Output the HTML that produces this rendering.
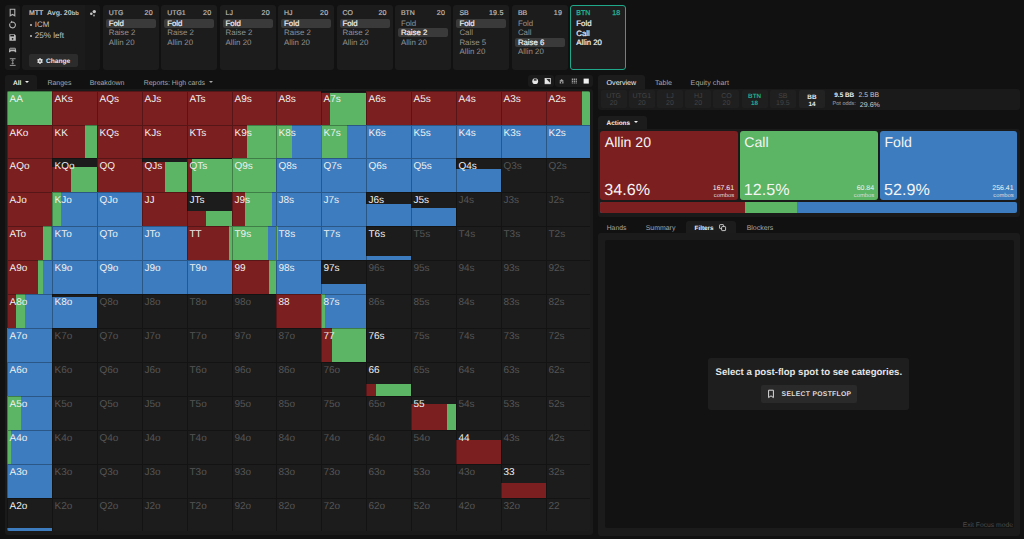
<!DOCTYPE html>
<html><head><meta charset="utf-8"><style>
*{margin:0;padding:0;box-sizing:border-box}
html,body{width:1024px;height:539px;overflow:hidden;background:#111111;font-family:"Liberation Sans",sans-serif;color:#ddd;position:relative;text-rendering:geometricPrecision}
.abs{position:absolute}
.nw{white-space:nowrap}
.card{position:absolute;top:5px;width:56px;height:64.6px;background:#1c1c1c;border-radius:3px}
.card.on{background:#1e1e1e;border:1.4px solid #1fa98a;}
.cn{position:absolute;left:6px;top:4.1px;font-size:6.95px;-webkit-text-stroke:.2px #b8b8b8;color:#b8b8b8;line-height:9px}
.cs{position:absolute;right:6px;top:4.1px;font-size:7.1px;-webkit-text-stroke:.2px #b8b8b8;letter-spacing:.2px;margin-right:-.2px;color:#b8b8b8;line-height:9px}
.card.on .cn,.card.on .cs{color:#22b08f;left:5px;top:2.5px;-webkit-text-stroke:.3px #22b08f}
.card.on .cs{left:auto;right:5px}
.ar{position:absolute;left:3px;width:50px;height:9px;padding-left:3px;font-size:7.9px;line-height:9px;color:#929292;white-space:nowrap}
.ar.sel{background:#3a3a3a;color:#f2f2f2;font-size:7.8px;-webkit-text-stroke:.2px #f2f2f2;border-radius:2px}
.ar.act{color:#f2f2f2;font-size:7.8px;-webkit-text-stroke:.2px #f2f2f2;left:2px}
#grid{position:absolute;left:7px;top:91px;width:583px;height:440px;background:#1c1c1c;overflow:hidden;border-radius:2px}
.c{position:absolute;overflow:hidden}
.c b{position:absolute;left:0;right:0;bottom:0}
.c i{position:absolute;top:0;bottom:0}
.c span{position:absolute;left:2.5px;top:2.5px;font-size:10px;line-height:11px;color:#f0f0f0;transform-origin:0 0;white-space:nowrap}
.c.e span{color:#555}
.c:after{content:"";position:absolute;left:0;top:0;right:0;bottom:0;border-left:1px solid rgba(0,0,0,.3);border-top:1px solid rgba(0,0,0,.3)}
.tab{position:absolute;margin-top:1px;font-size:6.95px;line-height:13px;color:#a8a8a8;height:13px;white-space:nowrap}
.tri{display:inline-block;width:0;height:0;border-left:2.2px solid transparent;border-right:2.2px solid transparent;border-top:2.7px solid currentColor;vertical-align:middle;position:relative;top:-1px}
.mc{position:absolute;top:90px;width:26px;height:18px;background:#1f1f1f;border-radius:2px;font-size:7px;line-height:7px;text-align:center;color:#434343;padding-top:3.4px}
.mc.btn{color:#1fae8c;font-weight:bold;font-size:6.3px}
.mc.bb{color:#e8e8e8;font-weight:bold;background:#222;font-size:6.3px;padding-top:3.6px;top:90.3px;height:17.8px}
.ab{position:absolute;top:131px;height:69px;border-radius:3px;color:#f4f4f4}
.ab .t{position:absolute;left:4.5px;top:2.9px;font-size:14.1px;line-height:16px;white-space:nowrap}
.ab .p{position:absolute;left:4px;top:49.5px;font-size:16.15px;line-height:18px;white-space:nowrap}
.ab .n{position:absolute;right:3.5px;top:54.2px;font-size:6.95px;line-height:8px;text-align:right}
.ab .n small{display:block;font-size:5.8px;line-height:7px;color:#dddddd}
</style></head><body>
<div class="abs" style="left:4.6px;top:5px;width:15px;height:64.6px;background:#1a1a1a;border-radius:3px"></div>
<svg class="abs" style="left:4.6px;top:5px" width="15" height="65" viewBox="0 0 15 65">
<g fill="none" stroke="#b4b4b4" stroke-width="1.1">
<path d="M5.2 4.2h4.6v6.5l-2.3-1.3-2.3 1.3z"/>
<path d="M5 18.6a2.9 2.9 0 1 0 1.7 -1.4"/>
</g>
<path d="M6.6 15.6l0.9 2.2-2.4 0.4z" fill="#b4b4b4"/>
<path d="M4.4 29.2h5.2l1.2 1.2v5.4h-6.4z" fill="#bdbdbd"/>
<rect x="5.4" y="29.9" width="3.6" height="1.5" fill="#1a1a1a"/>
<circle cx="7.6" cy="33.8" r="0.9" fill="#1a1a1a"/>
<path d="M5.6 42.8h4c.8 0 1.2.6 1.3 1.3l.35 2.6c.1.6-.5.9-1 .45l-1-1h-3.3l-1 1c-.5.45-1.1.15-1-.45l.35-2.6c.1-.7.5-1.3 1.3-1.3z" fill="#b4b4b4"/><rect x="5" y="43.7" width="5.2" height="0.8" fill="#1a1a1a"/>
<rect x="4.8" y="53.3" width="5.8" height="0.9" fill="#a8a8a8"/>
<rect x="4.8" y="59.9" width="5.8" height="0.9" fill="#a8a8a8"/>
<path d="M7.7 54.5v4.6M6.6 55.6l1.1-1.1 1.1 1.1M6.6 58l1.1 1.1 1.1-1.1" stroke="#a8a8a8" stroke-width="0.8" fill="none"/>
</svg>
<div class="abs" style="left:22px;top:5px;width:78.4px;height:64.6px;background:#1b1b1b;border-radius:3px"></div>
<div class="abs" style="left:85.2px;top:5px;width:15.2px;height:64.6px;background:#181818;border-radius:0 3px 3px 0"></div>
<svg class="abs" style="left:88px;top:9px" width="10" height="9" viewBox="0 0 10 9"><circle cx="6.3" cy="2.6" r="1.7" fill="#c8c8c8"/><circle cx="3.3" cy="4.8" r="1.3" fill="#c8c8c8"/><circle cx="6" cy="6.4" r="1" fill="#999"/></svg>
<div class="abs nw" style="left:29px;top:8.7px;font-size:7.0px;line-height:9px;color:#c4c4c4;font-weight:bold"><span id="m_mtt">MTT&nbsp; Avg. 20<span style="font-size:5.8px">bb</span></span></div>
<div class="abs" style="left:29.5px;top:23.6px;width:2px;height:2px;border-radius:1px;background:#c4c4c4"></div><div class="abs nw" style="left:34.8px;top:19.9px;font-size:7.9px;line-height:10px;color:#c4c4c4"><span id="m_icm">ICM</span></div>
<div class="abs" style="left:29.5px;top:34.9px;width:2px;height:2px;border-radius:1px;background:#c4c4c4"></div><div class="abs nw" style="left:34.8px;top:31.2px;font-size:8.1px;line-height:10px;color:#c4c4c4"><span id="m_left">25% left</span></div>
<div class="abs" style="left:29.1px;top:54.1px;width:48.9px;height:12.8px;background:#2c2c2c;border-radius:2px"></div>
<svg class="abs" style="left:37.3px;top:57.5px" width="6" height="6" viewBox="0 0 6 6"><g fill="#e6e6e6"><circle cx="3" cy="3" r="2"/><circle cx="3" cy="0.9" r="0.9"/><circle cx="3" cy="5.1" r="0.9"/><circle cx="1.2" cy="1.95" r="0.9"/><circle cx="4.8" cy="1.95" r="0.9"/><circle cx="1.2" cy="4.05" r="0.9"/><circle cx="4.8" cy="4.05" r="0.9"/></g><circle cx="3" cy="3" r="0.85" fill="#2c2c2c"/></svg>
<div class="abs nw" style="left:46px;top:56.7px;font-size:6.6px;line-height:9px;color:#e6e6e6;font-weight:bold"><span id="m_change">Change</span></div>
<div class="card" style="left:102.7px"><div class="cn"><span id="m_cn0">UTG</span></div><div class="cs"><span id="m_cs0">20</span></div><div class="ar sel" style="top:14.00px"><span id="m_c0_0">Fold</span></div><div class="ar " style="top:23.35px"><span id="m_c0_1">Raise 2</span></div><div class="ar " style="top:32.70px"><span id="m_c0_2">Allin 20</span></div></div><div class="card" style="left:161.2px"><div class="cn"><span id="m_cn1">UTG1</span></div><div class="cs"><span id="m_cs1">20</span></div><div class="ar sel" style="top:14.00px"><span>Fold</span></div><div class="ar " style="top:23.35px"><span>Raise 2</span></div><div class="ar " style="top:32.70px"><span>Allin 20</span></div></div><div class="card" style="left:219.6px"><div class="cn"><span id="m_cn2">LJ</span></div><div class="cs"><span id="m_cs2">20</span></div><div class="ar sel" style="top:14.00px"><span>Fold</span></div><div class="ar " style="top:23.35px"><span>Raise 2</span></div><div class="ar " style="top:32.70px"><span>Allin 20</span></div></div><div class="card" style="left:278.1px"><div class="cn"><span id="m_cn3">HJ</span></div><div class="cs"><span id="m_cs3">20</span></div><div class="ar sel" style="top:14.00px"><span>Fold</span></div><div class="ar " style="top:23.35px"><span>Raise 2</span></div><div class="ar " style="top:32.70px"><span>Allin 20</span></div></div><div class="card" style="left:336.5px"><div class="cn"><span id="m_cn4">CO</span></div><div class="cs"><span id="m_cs4">20</span></div><div class="ar sel" style="top:14.00px"><span>Fold</span></div><div class="ar " style="top:23.35px"><span>Raise 2</span></div><div class="ar " style="top:32.70px"><span>Allin 20</span></div></div><div class="card" style="left:394.9px"><div class="cn"><span id="m_cn5">BTN</span></div><div class="cs"><span id="m_cs5">20</span></div><div class="ar " style="top:14.00px"><span>Fold</span></div><div class="ar sel" style="top:23.35px"><span>Raise 2</span></div><div class="ar " style="top:32.70px"><span>Allin 20</span></div></div><div class="card" style="left:453.4px"><div class="cn"><span id="m_cn6">SB</span></div><div class="cs"><span id="m_cs6">19.5</span></div><div class="ar sel" style="top:14.00px"><span>Fold</span></div><div class="ar " style="top:23.35px"><span>Call</span></div><div class="ar " style="top:32.70px"><span>Raise 5</span></div><div class="ar " style="top:42.05px"><span>Allin 20</span></div></div><div class="card" style="left:511.9px"><div class="cn"><span id="m_cn7">BB</span></div><div class="cs"><span id="m_cs7">19</span></div><div class="ar " style="top:14.00px"><span>Fold</span></div><div class="ar " style="top:23.35px"><span>Call</span></div><div class="ar sel" style="top:32.70px"><span>Raise 6</span></div><div class="ar " style="top:42.05px"><span>Allin 20</span></div></div><div class="card on" style="left:570.3px"><div class="cn"><span id="m_cn8">BTN</span></div><div class="cs"><span id="m_cs8">18</span></div><div class="ar act" style="top:13.20px"><span id="m_c8_0">Fold</span></div><div class="ar act" style="top:22.55px"><span id="m_c8_1">Call</span></div><div class="ar act" style="top:31.90px"><span id="m_c8_2">Allin 20</span></div></div>
<div class="abs" style="left:4.9px;top:88.5px;width:588.5px;height:446.6px;background:#1a1a1a;border-radius:0 3px 3px 3px"></div>
<div class="abs" style="left:4.9px;top:75px;width:32px;height:14px;background:#1a1a1a;border-radius:3px 3px 0 0"></div>
<div class="tab" style="left:13px;top:75.5px;color:#f0f0f0;font-weight:bold;font-size:6.6px"><span id="m_all">All</span> &nbsp;<span class="tri"></span></div>
<div class="tab" style="left:47.5px;top:75.5px"><span id="m_ranges">Ranges</span></div>
<div class="tab" style="left:89.7px;top:75.5px"><span id="m_bd">Breakdown</span></div>
<div class="tab" style="left:143.7px;top:75.5px"><span id="m_rep">Reports: High cards</span> &nbsp;<span class="tri"></span></div>
<div class="abs" style="left:528.2px;top:75.2px;width:25.7px;height:11.9px;background:#1a1a1a;border-radius:3px"></div>
<div class="abs" style="left:555.3px;top:75.2px;width:37.7px;height:11.9px;background:#1a1a1a;border-radius:3px"></div>
<svg class="abs" style="left:528px;top:75px" width="66" height="13" viewBox="0 0 66 13">
<circle cx="7.2" cy="6.2" r="2.9" fill="#e8e8e8"/><path d="M5.8 4.2l1.4-1 1.4 1v1.6h-2.8z" fill="#444"/>
<rect x="17" y="3.4" width="5.3" height="5.4" fill="#e8e8e8"/><path d="M17.9 3.4h4.4v4.5z" fill="#2a2a2a"/><rect x="17" y="3.4" width="5.3" height="5.4" fill="none" stroke="#e8e8e8" stroke-width=".7"/>
<path d="M31.7 6.2h3.8v2.4h-3.8z M31.3 6l2.3-2 2.3 2z" fill="#a0a0a0"/><rect x="33" y="6.9" width="1.2" height="1.7" fill="#1a1a1a"/>
<path d="M43.8 3.6h1.3v5h-1.3zM45.7 3.6h1.3v5h-1.3zM47.6 3.6h1.3v5h-1.3z" fill="#9c9c9c"/><path d="M43.8 5.3h5.1v.5h-5.1zM43.8 6.9h5.1v.5h-5.1z" fill="#1a1a1a"/>
<rect x="55.6" y="3.6" width="5.2" height="5" fill="#f0f0f0"/>
</svg>
<div id="grid"><div class="c" style="left:0px;top:0px;width:45px;height:34px"><b style="height:100.00%"><i style="left:0.00%;width:100.00%;background:#5bb565"></i></b><span>AA</span></div><div class="c" style="left:45px;top:0px;width:45px;height:34px"><b style="height:100.00%"><i style="left:0.00%;width:100.00%;background:#7c1f20"></i></b><span>AKs</span></div><div class="c" style="left:90px;top:0px;width:45px;height:34px"><b style="height:100.00%"><i style="left:0.00%;width:100.00%;background:#7c1f20"></i></b><span>AQs</span></div><div class="c" style="left:135px;top:0px;width:45px;height:34px"><b style="height:100.00%"><i style="left:0.00%;width:100.00%;background:#7c1f20"></i></b><span>AJs</span></div><div class="c" style="left:180px;top:0px;width:45px;height:34px"><b style="height:100.00%"><i style="left:0.00%;width:100.00%;background:#7c1f20"></i></b><span>ATs</span></div><div class="c" style="left:225px;top:0px;width:44px;height:34px"><b style="height:100.00%"><i style="left:0.00%;width:100.00%;background:#7c1f20"></i></b><span>A9s</span></div><div class="c" style="left:269px;top:0px;width:45px;height:34px"><b style="height:100.00%"><i style="left:0.00%;width:100.00%;background:#7c1f20"></i></b><span>A8s</span></div><div class="c" style="left:314px;top:0px;width:45px;height:34px"><b style="height:94.00%"><i style="left:0.00%;width:21.00%;background:#7c1f20"></i><i style="left:21.00%;width:79.00%;background:#5bb565"></i></b><span>A7s</span></div><div class="c" style="left:359px;top:0px;width:45px;height:34px"><b style="height:100.00%"><i style="left:0.00%;width:100.00%;background:#7c1f20"></i></b><span>A6s</span></div><div class="c" style="left:404px;top:0px;width:45px;height:34px"><b style="height:100.00%"><i style="left:0.00%;width:100.00%;background:#7c1f20"></i></b><span>A5s</span></div><div class="c" style="left:449px;top:0px;width:45px;height:34px"><b style="height:100.00%"><i style="left:0.00%;width:100.00%;background:#7c1f20"></i></b><span>A4s</span></div><div class="c" style="left:494px;top:0px;width:45px;height:34px"><b style="height:100.00%"><i style="left:0.00%;width:100.00%;background:#7c1f20"></i></b><span>A3s</span></div><div class="c" style="left:539px;top:0px;width:44px;height:34px"><b style="height:100.00%"><i style="left:0.00%;width:82.00%;background:#7c1f20"></i><i style="left:82.00%;width:18.00%;background:#5bb565"></i></b><span>A2s</span></div><div class="c" style="left:0px;top:34px;width:45px;height:33px"><b style="height:100.00%"><i style="left:0.00%;width:100.00%;background:#7c1f20"></i></b><span>AKo</span></div><div class="c" style="left:45px;top:34px;width:45px;height:33px"><b style="height:100.00%"><i style="left:0.00%;width:73.50%;background:#7c1f20"></i><i style="left:73.50%;width:26.50%;background:#5bb565"></i></b><span>KK</span></div><div class="c" style="left:90px;top:34px;width:45px;height:33px"><b style="height:100.00%"><i style="left:0.00%;width:100.00%;background:#7c1f20"></i></b><span>KQs</span></div><div class="c" style="left:135px;top:34px;width:45px;height:33px"><b style="height:100.00%"><i style="left:0.00%;width:100.00%;background:#7c1f20"></i></b><span>KJs</span></div><div class="c" style="left:180px;top:34px;width:45px;height:33px"><b style="height:100.00%"><i style="left:0.00%;width:100.00%;background:#7c1f20"></i></b><span>KTs</span></div><div class="c" style="left:225px;top:34px;width:44px;height:33px"><b style="height:100.00%"><i style="left:0.00%;width:34.00%;background:#7c1f20"></i><i style="left:34.00%;width:66.00%;background:#5bb565"></i></b><span>K9s</span></div><div class="c" style="left:269px;top:34px;width:45px;height:33px"><b style="height:100.00%"><i style="left:0.00%;width:36.00%;background:#5bb565"></i><i style="left:36.00%;width:64.00%;background:#3d7dbf"></i></b><span>K8s</span></div><div class="c" style="left:314px;top:34px;width:45px;height:33px"><b style="height:100.00%"><i style="left:0.00%;width:58.00%;background:#5bb565"></i><i style="left:58.00%;width:42.00%;background:#3d7dbf"></i></b><span>K7s</span></div><div class="c" style="left:359px;top:34px;width:45px;height:33px"><b style="height:100.00%"><i style="left:0.00%;width:100.00%;background:#3d7dbf"></i></b><span>K6s</span></div><div class="c" style="left:404px;top:34px;width:45px;height:33px"><b style="height:100.00%"><i style="left:0.00%;width:100.00%;background:#3d7dbf"></i></b><span>K5s</span></div><div class="c" style="left:449px;top:34px;width:45px;height:33px"><b style="height:100.00%"><i style="left:0.00%;width:100.00%;background:#3d7dbf"></i></b><span>K4s</span></div><div class="c" style="left:494px;top:34px;width:45px;height:33px"><b style="height:100.00%"><i style="left:0.00%;width:100.00%;background:#3d7dbf"></i></b><span>K3s</span></div><div class="c" style="left:539px;top:34px;width:44px;height:33px"><b style="height:100.00%"><i style="left:0.00%;width:100.00%;background:#3d7dbf"></i></b><span>K2s</span></div><div class="c" style="left:0px;top:67px;width:45px;height:34px"><b style="height:100.00%"><i style="left:0.00%;width:100.00%;background:#7c1f20"></i></b><span>AQo</span></div><div class="c" style="left:45px;top:67px;width:45px;height:34px"><b style="height:75.00%"><i style="left:0.00%;width:42.00%;background:#7c1f20"></i><i style="left:42.00%;width:58.00%;background:#5bb565"></i></b><span>KQo</span></div><div class="c" style="left:90px;top:67px;width:45px;height:34px"><b style="height:100.00%"><i style="left:0.00%;width:100.00%;background:#7c1f20"></i></b><span>QQ</span></div><div class="c" style="left:135px;top:67px;width:45px;height:34px"><b style="height:87.00%"><i style="left:0.00%;width:52.00%;background:#7c1f20"></i><i style="left:52.00%;width:48.00%;background:#5bb565"></i></b><span>QJs</span></div><div class="c" style="left:180px;top:67px;width:45px;height:34px"><b style="height:97.00%"><i style="left:0.00%;width:11.00%;background:#7c1f20"></i><i style="left:11.00%;width:89.00%;background:#5bb565"></i></b><span>QTs</span></div><div class="c" style="left:225px;top:67px;width:44px;height:34px"><b style="height:100.00%"><i style="left:0.00%;width:100.00%;background:#5bb565"></i></b><span>Q9s</span></div><div class="c" style="left:269px;top:67px;width:45px;height:34px"><b style="height:100.00%"><i style="left:0.00%;width:100.00%;background:#3d7dbf"></i></b><span>Q8s</span></div><div class="c" style="left:314px;top:67px;width:45px;height:34px"><b style="height:100.00%"><i style="left:0.00%;width:100.00%;background:#3d7dbf"></i></b><span>Q7s</span></div><div class="c" style="left:359px;top:67px;width:45px;height:34px"><b style="height:100.00%"><i style="left:0.00%;width:100.00%;background:#3d7dbf"></i></b><span>Q6s</span></div><div class="c" style="left:404px;top:67px;width:45px;height:34px"><b style="height:100.00%"><i style="left:0.00%;width:100.00%;background:#3d7dbf"></i></b><span>Q5s</span></div><div class="c" style="left:449px;top:67px;width:45px;height:34px"><b style="height:68.50%"><i style="left:0.00%;width:100.00%;background:#3d7dbf"></i></b><span>Q4s</span></div><div class="c e" style="left:494px;top:67px;width:45px;height:34px"><span>Q3s</span></div><div class="c e" style="left:539px;top:67px;width:44px;height:34px"><span>Q2s</span></div><div class="c" style="left:0px;top:101px;width:45px;height:34px"><b style="height:100.00%"><i style="left:0.00%;width:100.00%;background:#7c1f20"></i></b><span>AJo</span></div><div class="c" style="left:45px;top:101px;width:45px;height:34px"><b style="height:100.00%"><i style="left:0.00%;width:19.00%;background:#5bb565"></i><i style="left:19.00%;width:81.00%;background:#3d7dbf"></i></b><span>KJo</span></div><div class="c" style="left:90px;top:101px;width:45px;height:34px"><b style="height:100.00%"><i style="left:0.00%;width:100.00%;background:#3d7dbf"></i></b><span>QJo</span></div><div class="c" style="left:135px;top:101px;width:45px;height:34px"><b style="height:100.00%"><i style="left:0.00%;width:100.00%;background:#7c1f20"></i></b><span>JJ</span></div><div class="c" style="left:180px;top:101px;width:45px;height:34px"><b style="height:44.00%"><i style="left:0.00%;width:43.00%;background:#7c1f20"></i><i style="left:43.00%;width:57.00%;background:#5bb565"></i></b><span>JTs</span></div><div class="c" style="left:225px;top:101px;width:44px;height:34px"><b style="height:100.00%"><i style="left:0.00%;width:30.00%;background:#7c1f20"></i><i style="left:30.00%;width:62.00%;background:#5bb565"></i><i style="left:92.00%;width:8.00%;background:#3d7dbf"></i></b><span>J9s</span></div><div class="c" style="left:269px;top:101px;width:45px;height:34px"><b style="height:100.00%"><i style="left:0.00%;width:100.00%;background:#3d7dbf"></i></b><span>J8s</span></div><div class="c" style="left:314px;top:101px;width:45px;height:34px"><b style="height:100.00%"><i style="left:0.00%;width:100.00%;background:#3d7dbf"></i></b><span>J7s</span></div><div class="c" style="left:359px;top:101px;width:45px;height:34px"><b style="height:63.50%"><i style="left:0.00%;width:100.00%;background:#3d7dbf"></i></b><span>J6s</span></div><div class="c" style="left:404px;top:101px;width:45px;height:34px"><b style="height:52.00%"><i style="left:0.00%;width:100.00%;background:#3d7dbf"></i></b><span>J5s</span></div><div class="c e" style="left:449px;top:101px;width:45px;height:34px"><span>J4s</span></div><div class="c e" style="left:494px;top:101px;width:45px;height:34px"><span>J3s</span></div><div class="c e" style="left:539px;top:101px;width:44px;height:34px"><span>J2s</span></div><div class="c" style="left:0px;top:135px;width:45px;height:34px"><b style="height:100.00%"><i style="left:0.00%;width:81.00%;background:#7c1f20"></i><i style="left:81.00%;width:17.50%;background:#5bb565"></i><i style="left:98.50%;width:1.50%;background:#3d7dbf"></i></b><span>ATo</span></div><div class="c" style="left:45px;top:135px;width:45px;height:34px"><b style="height:100.00%"><i style="left:0.00%;width:100.00%;background:#3d7dbf"></i></b><span>KTo</span></div><div class="c" style="left:90px;top:135px;width:45px;height:34px"><b style="height:100.00%"><i style="left:0.00%;width:100.00%;background:#3d7dbf"></i></b><span>QTo</span></div><div class="c" style="left:135px;top:135px;width:45px;height:34px"><b style="height:100.00%"><i style="left:0.00%;width:100.00%;background:#3d7dbf"></i></b><span>JTo</span></div><div class="c" style="left:180px;top:135px;width:45px;height:34px"><b style="height:100.00%"><i style="left:0.00%;width:93.00%;background:#7c1f20"></i><i style="left:93.00%;width:7.00%;background:#5bb565"></i></b><span>TT</span></div><div class="c" style="left:225px;top:135px;width:44px;height:34px"><b style="height:100.00%"><i style="left:0.00%;width:81.00%;background:#5bb565"></i><i style="left:81.00%;width:19.00%;background:#3d7dbf"></i></b><span>T9s</span></div><div class="c" style="left:269px;top:135px;width:45px;height:34px"><b style="height:100.00%"><i style="left:0.00%;width:3.50%;background:#5bb565"></i><i style="left:3.50%;width:96.50%;background:#3d7dbf"></i></b><span>T8s</span></div><div class="c" style="left:314px;top:135px;width:45px;height:34px"><b style="height:100.00%"><i style="left:0.00%;width:100.00%;background:#3d7dbf"></i></b><span>T7s</span></div><div class="c" style="left:359px;top:135px;width:45px;height:34px"><b style="height:12.00%"><i style="left:0.00%;width:100.00%;background:#3d7dbf"></i></b><span>T6s</span></div><div class="c e" style="left:404px;top:135px;width:45px;height:34px"><span>T5s</span></div><div class="c e" style="left:449px;top:135px;width:45px;height:34px"><span>T4s</span></div><div class="c e" style="left:494px;top:135px;width:45px;height:34px"><span>T3s</span></div><div class="c e" style="left:539px;top:135px;width:44px;height:34px"><span>T2s</span></div><div class="c" style="left:0px;top:169px;width:45px;height:34px"><b style="height:100.00%"><i style="left:0.00%;width:69.00%;background:#7c1f20"></i><i style="left:69.00%;width:11.50%;background:#5bb565"></i><i style="left:80.50%;width:19.50%;background:#3d7dbf"></i></b><span>A9o</span></div><div class="c" style="left:45px;top:169px;width:45px;height:34px"><b style="height:100.00%"><i style="left:0.00%;width:100.00%;background:#3d7dbf"></i></b><span>K9o</span></div><div class="c" style="left:90px;top:169px;width:45px;height:34px"><b style="height:100.00%"><i style="left:0.00%;width:100.00%;background:#3d7dbf"></i></b><span>Q9o</span></div><div class="c" style="left:135px;top:169px;width:45px;height:34px"><b style="height:100.00%"><i style="left:0.00%;width:100.00%;background:#3d7dbf"></i></b><span>J9o</span></div><div class="c" style="left:180px;top:169px;width:45px;height:34px"><b style="height:100.00%"><i style="left:0.00%;width:100.00%;background:#3d7dbf"></i></b><span>T9o</span></div><div class="c" style="left:225px;top:169px;width:44px;height:34px"><b style="height:100.00%"><i style="left:0.00%;width:85.00%;background:#7c1f20"></i><i style="left:85.00%;width:15.00%;background:#5bb565"></i></b><span>99</span></div><div class="c" style="left:269px;top:169px;width:45px;height:34px"><b style="height:100.00%"><i style="left:0.00%;width:100.00%;background:#3d7dbf"></i></b><span>98s</span></div><div class="c" style="left:314px;top:169px;width:45px;height:34px"><b style="height:30.00%"><i style="left:0.00%;width:100.00%;background:#3d7dbf"></i></b><span>97s</span></div><div class="c e" style="left:359px;top:169px;width:45px;height:34px"><span>96s</span></div><div class="c e" style="left:404px;top:169px;width:45px;height:34px"><span>95s</span></div><div class="c e" style="left:449px;top:169px;width:45px;height:34px"><span>94s</span></div><div class="c e" style="left:494px;top:169px;width:45px;height:34px"><span>93s</span></div><div class="c e" style="left:539px;top:169px;width:44px;height:34px"><span>92s</span></div><div class="c" style="left:0px;top:203px;width:45px;height:34px"><b style="height:100.00%"><i style="left:0.00%;width:19.00%;background:#7c1f20"></i><i style="left:19.00%;width:21.00%;background:#5bb565"></i><i style="left:40.00%;width:60.00%;background:#3d7dbf"></i></b><span>A8o</span></div><div class="c" style="left:45px;top:203px;width:45px;height:34px"><b style="height:90.00%"><i style="left:0.00%;width:100.00%;background:#3d7dbf"></i></b><span>K8o</span></div><div class="c e" style="left:90px;top:203px;width:45px;height:34px"><span>Q8o</span></div><div class="c e" style="left:135px;top:203px;width:45px;height:34px"><span>J8o</span></div><div class="c e" style="left:180px;top:203px;width:45px;height:34px"><span>T8o</span></div><div class="c e" style="left:225px;top:203px;width:44px;height:34px"><span>98o</span></div><div class="c" style="left:269px;top:203px;width:45px;height:34px"><b style="height:100.00%"><i style="left:0.00%;width:100.00%;background:#7c1f20"></i></b><span>88</span></div><div class="c" style="left:314px;top:203px;width:45px;height:34px"><b style="height:100.00%"><i style="left:0.00%;width:8.00%;background:#5bb565"></i><i style="left:8.00%;width:92.00%;background:#3d7dbf"></i></b><span>87s</span></div><div class="c e" style="left:359px;top:203px;width:45px;height:34px"><span>86s</span></div><div class="c e" style="left:404px;top:203px;width:45px;height:34px"><span>85s</span></div><div class="c e" style="left:449px;top:203px;width:45px;height:34px"><span>84s</span></div><div class="c e" style="left:494px;top:203px;width:45px;height:34px"><span>83s</span></div><div class="c e" style="left:539px;top:203px;width:44px;height:34px"><span>82s</span></div><div class="c" style="left:0px;top:237px;width:45px;height:34px"><b style="height:100.00%"><i style="left:0.00%;width:2.00%;background:#5bb565"></i><i style="left:2.00%;width:98.00%;background:#3d7dbf"></i></b><span>A7o</span></div><div class="c e" style="left:45px;top:237px;width:45px;height:34px"><span>K7o</span></div><div class="c e" style="left:90px;top:237px;width:45px;height:34px"><span>Q7o</span></div><div class="c e" style="left:135px;top:237px;width:45px;height:34px"><span>J7o</span></div><div class="c e" style="left:180px;top:237px;width:45px;height:34px"><span>T7o</span></div><div class="c e" style="left:225px;top:237px;width:44px;height:34px"><span>97o</span></div><div class="c e" style="left:269px;top:237px;width:45px;height:34px"><span>87o</span></div><div class="c" style="left:314px;top:237px;width:45px;height:34px"><b style="height:100.00%"><i style="left:0.00%;width:25.00%;background:#7c1f20"></i><i style="left:25.00%;width:75.00%;background:#5bb565"></i></b><span>77</span></div><div class="c" style="left:359px;top:237px;width:45px;height:34px"><span>76s</span></div><div class="c e" style="left:404px;top:237px;width:45px;height:34px"><span>75s</span></div><div class="c e" style="left:449px;top:237px;width:45px;height:34px"><span>74s</span></div><div class="c e" style="left:494px;top:237px;width:45px;height:34px"><span>73s</span></div><div class="c e" style="left:539px;top:237px;width:44px;height:34px"><span>72s</span></div><div class="c" style="left:0px;top:271px;width:45px;height:34px"><b style="height:100.00%"><i style="left:0.00%;width:100.00%;background:#3d7dbf"></i></b><span>A6o</span></div><div class="c e" style="left:45px;top:271px;width:45px;height:34px"><span>K6o</span></div><div class="c e" style="left:90px;top:271px;width:45px;height:34px"><span>Q6o</span></div><div class="c e" style="left:135px;top:271px;width:45px;height:34px"><span>J6o</span></div><div class="c e" style="left:180px;top:271px;width:45px;height:34px"><span>T6o</span></div><div class="c e" style="left:225px;top:271px;width:44px;height:34px"><span>96o</span></div><div class="c e" style="left:269px;top:271px;width:45px;height:34px"><span>86o</span></div><div class="c e" style="left:314px;top:271px;width:45px;height:34px"><span>76o</span></div><div class="c" style="left:359px;top:271px;width:45px;height:34px"><b style="height:34.50%"><i style="left:0.00%;width:22.00%;background:#7c1f20"></i><i style="left:22.00%;width:78.00%;background:#5bb565"></i></b><span>66</span></div><div class="c e" style="left:404px;top:271px;width:45px;height:34px"><span>65s</span></div><div class="c e" style="left:449px;top:271px;width:45px;height:34px"><span>64s</span></div><div class="c e" style="left:494px;top:271px;width:45px;height:34px"><span>63s</span></div><div class="c e" style="left:539px;top:271px;width:44px;height:34px"><span>62s</span></div><div class="c" style="left:0px;top:305px;width:45px;height:34px"><b style="height:100.00%"><i style="left:0.00%;width:30.00%;background:#5bb565"></i><i style="left:30.00%;width:70.00%;background:#3d7dbf"></i></b><span>A5o</span></div><div class="c e" style="left:45px;top:305px;width:45px;height:34px"><span>K5o</span></div><div class="c e" style="left:90px;top:305px;width:45px;height:34px"><span>Q5o</span></div><div class="c e" style="left:135px;top:305px;width:45px;height:34px"><span>J5o</span></div><div class="c e" style="left:180px;top:305px;width:45px;height:34px"><span>T5o</span></div><div class="c e" style="left:225px;top:305px;width:44px;height:34px"><span>95o</span></div><div class="c e" style="left:269px;top:305px;width:45px;height:34px"><span>85o</span></div><div class="c e" style="left:314px;top:305px;width:45px;height:34px"><span>75o</span></div><div class="c e" style="left:359px;top:305px;width:45px;height:34px"><span>65o</span></div><div class="c" style="left:404px;top:305px;width:45px;height:34px"><b style="height:76.50%"><i style="left:0.00%;width:79.00%;background:#7c1f20"></i><i style="left:79.00%;width:21.00%;background:#5bb565"></i></b><span>55</span></div><div class="c e" style="left:449px;top:305px;width:45px;height:34px"><span>54s</span></div><div class="c e" style="left:494px;top:305px;width:45px;height:34px"><span>53s</span></div><div class="c e" style="left:539px;top:305px;width:44px;height:34px"><span>52s</span></div><div class="c" style="left:0px;top:339px;width:45px;height:34px"><b style="height:100.00%"><i style="left:0.00%;width:8.00%;background:#5bb565"></i><i style="left:8.00%;width:92.00%;background:#3d7dbf"></i></b><span>A4o</span></div><div class="c e" style="left:45px;top:339px;width:45px;height:34px"><span>K4o</span></div><div class="c e" style="left:90px;top:339px;width:45px;height:34px"><span>Q4o</span></div><div class="c e" style="left:135px;top:339px;width:45px;height:34px"><span>J4o</span></div><div class="c e" style="left:180px;top:339px;width:45px;height:34px"><span>T4o</span></div><div class="c e" style="left:225px;top:339px;width:44px;height:34px"><span>94o</span></div><div class="c e" style="left:269px;top:339px;width:45px;height:34px"><span>84o</span></div><div class="c e" style="left:314px;top:339px;width:45px;height:34px"><span>74o</span></div><div class="c e" style="left:359px;top:339px;width:45px;height:34px"><span>64o</span></div><div class="c e" style="left:404px;top:339px;width:45px;height:34px"><span>54o</span></div><div class="c" style="left:449px;top:339px;width:45px;height:34px"><b style="height:70.00%"><i style="left:0.00%;width:100.00%;background:#7c1f20"></i></b><span>44</span></div><div class="c e" style="left:494px;top:339px;width:45px;height:34px"><span>43s</span></div><div class="c e" style="left:539px;top:339px;width:44px;height:34px"><span>42s</span></div><div class="c" style="left:0px;top:373px;width:45px;height:34px"><b style="height:100.00%"><i style="left:0.00%;width:100.00%;background:#3d7dbf"></i></b><span>A3o</span></div><div class="c e" style="left:45px;top:373px;width:45px;height:34px"><span>K3o</span></div><div class="c e" style="left:90px;top:373px;width:45px;height:34px"><span>Q3o</span></div><div class="c e" style="left:135px;top:373px;width:45px;height:34px"><span>J3o</span></div><div class="c e" style="left:180px;top:373px;width:45px;height:34px"><span>T3o</span></div><div class="c e" style="left:225px;top:373px;width:44px;height:34px"><span>93o</span></div><div class="c e" style="left:269px;top:373px;width:45px;height:34px"><span>83o</span></div><div class="c e" style="left:314px;top:373px;width:45px;height:34px"><span>73o</span></div><div class="c e" style="left:359px;top:373px;width:45px;height:34px"><span>63o</span></div><div class="c e" style="left:404px;top:373px;width:45px;height:34px"><span>53o</span></div><div class="c e" style="left:449px;top:373px;width:45px;height:34px"><span>43o</span></div><div class="c" style="left:494px;top:373px;width:45px;height:34px"><b style="height:45.00%"><i style="left:0.00%;width:100.00%;background:#7c1f20"></i></b><span>33</span></div><div class="c e" style="left:539px;top:373px;width:44px;height:34px"><span>32s</span></div><div class="c" style="left:0px;top:407px;width:45px;height:33px"><b style="height:10.00%"><i style="left:0.00%;width:100.00%;background:#3d7dbf"></i></b><span>A2o</span></div><div class="c e" style="left:45px;top:407px;width:45px;height:33px"><span>K2o</span></div><div class="c e" style="left:90px;top:407px;width:45px;height:33px"><span>Q2o</span></div><div class="c e" style="left:135px;top:407px;width:45px;height:33px"><span>J2o</span></div><div class="c e" style="left:180px;top:407px;width:45px;height:33px"><span>T2o</span></div><div class="c e" style="left:225px;top:407px;width:44px;height:33px"><span>92o</span></div><div class="c e" style="left:269px;top:407px;width:45px;height:33px"><span>82o</span></div><div class="c e" style="left:314px;top:407px;width:45px;height:33px"><span>72o</span></div><div class="c e" style="left:359px;top:407px;width:45px;height:33px"><span>62o</span></div><div class="c e" style="left:404px;top:407px;width:45px;height:33px"><span>52o</span></div><div class="c e" style="left:449px;top:407px;width:45px;height:33px"><span>42o</span></div><div class="c e" style="left:494px;top:407px;width:45px;height:33px"><span>32o</span></div><div class="c e" style="left:539px;top:407px;width:44px;height:33px"><span>22</span></div></div>
<div class="abs" style="left:598px;top:75px;width:47px;height:14px;background:#1c1c1c;border-radius:3px 3px 0 0"></div>
<div class="tab" style="left:606.6px;top:75.5px;color:#f0f0f0;font-size:7.1px"><span id="m_ov">Overview</span></div>
<div class="tab" style="left:655px;top:75.5px;font-size:7.1px"><span id="m_tbl">Table</span></div>
<div class="tab" style="left:690.6px;top:75.5px;font-size:7.1px;letter-spacing:.08px"><span id="m_eq">Equity chart</span></div>
<div class="abs" style="left:598px;top:88.6px;width:421.5px;height:21.5px;background:#1a1a1a;border-radius:0 3px 3px 3px"></div>
<div class="mc" style="left:600.6px"><div>UTG</div><div>20</div></div><div class="mc" style="left:628.8px"><div>UTG1</div><div>20</div></div><div class="mc" style="left:657.0px"><div>LJ</div><div>20</div></div><div class="mc" style="left:685.2px"><div>HJ</div><div>20</div></div><div class="mc" style="left:713.4px"><div>CO</div><div>20</div></div><div class="mc btn" style="left:741.6px"><div>BTN</div><div>18</div></div><div class="mc" style="left:769.8px"><div>SB</div><div>19.5</div></div><div class="mc bb" style="left:799px;width:25.8px"><div>BB</div><div>14</div></div>
<div class="abs nw" style="left:834.3px;top:91.6px;font-size:6.4px;line-height:8px;color:#eee;font-weight:bold"><span id="m_95">9.5 BB</span></div>
<div class="abs nw" style="left:858.6px;top:91.6px;font-size:6.8px;line-height:8px;color:#ccc"><span id="m_25">2.5 BB</span></div>
<div class="abs nw" style="left:832.6px;top:101.4px;font-size:5.5px;line-height:7px;color:#aaa"><span id="m_po">Pot odds:</span></div>
<div class="abs nw" style="left:859.8px;top:100.9px;font-size:7.1px;line-height:8px;color:#ccc"><span id="m_296">29.6%</span></div>
<div class="abs" style="left:598px;top:115.6px;width:48.6px;height:14px;background:#1c1c1c;border-radius:3px 3px 0 0"></div>
<div class="tab" style="left:606.6px;top:115.8px;color:#f0f0f0;font-weight:bold;font-size:6.4px"><span id="m_act">Actions</span> &nbsp;<span class="tri"></span></div>
<div class="abs" style="left:598px;top:128.6px;width:422px;height:88px;background:#1a1a1a;border-radius:0 3px 3px 3px"></div>
<div class="ab" style="left:600.3px;width:137.3px;background:#7c1f20"><div class="t"><span id="m_allin">Allin 20</span></div><div class="p"><span id="m_346">34.6%</span></div><div class="n"><span id="m_167">167.61</span><small><span id="m_combos">combos</span></small></div></div>
<div class="ab" style="left:739.8px;width:137.8px;background:#5bb565"><div class="t">Call</div><div class="p">12.5%</div><div class="n">60.84<small>combos</small></div></div>
<div class="ab" style="left:880px;width:137.1px;background:#3d7dbf"><div class="t">Fold</div><div class="p">52.9%</div><div class="n">256.41<small>combos</small></div></div>
<div class="abs" style="left:600.3px;top:202.3px;width:416.8px;height:10.7px;border-radius:2px;overflow:hidden;background:#3d7dbf">
<div class="abs" style="left:0;top:0;width:144.3px;height:100%;background:#7c1f20"></div>
<div class="abs" style="left:144.3px;top:0;width:52.3px;height:100%;background:#5bb565"></div></div>
<div class="abs" style="left:685.5px;top:220.8px;width:50.7px;height:13px;background:#1c1c1c;border-radius:3px 3px 0 0"></div>
<div class="tab" style="left:606.7px;top:221px;font-size:6.8px"><span id="m_hands">Hands</span></div>
<div class="tab" style="left:645.7px;top:221px"><span id="m_sum">Summary</span></div>
<div class="tab" style="left:694.6px;top:221px;color:#f0f0f0;font-weight:bold;font-size:6.3px"><span id="m_filt">Filters</span></div>
<svg class="abs" style="left:718.5px;top:223.7px" width="8" height="8" viewBox="0 0 8 8"><rect x=".6" y=".6" width="4" height="4" rx=".6" fill="none" stroke="#e0e0e0" stroke-width=".85"/><rect x="2.6" y="2.6" width="4" height="4" rx=".6" fill="#1c1c1c" stroke="#e0e0e0" stroke-width=".85"/></svg>
<div class="tab" style="left:746.7px;top:221px"><span id="m_blk">Blockers</span></div>
<div class="abs" style="left:598.3px;top:233.3px;width:421.6px;height:302.3px;background:#1b1b1b;border-radius:3px"></div>
<div class="abs" style="left:604.6px;top:239.6px;width:409px;height:288.2px;background:#121212;border-radius:2px"></div>
<div class="abs" style="left:708.2px;top:358.2px;width:201.3px;height:52px;background:#1e1e1e;border-radius:3px"></div>
<div class="abs nw" style="left:715.5px;top:367.2px;font-size:9.6px;line-height:12px;color:#e4e4e4;font-weight:bold"><span id="m_sel">Select a post-flop spot to see categories.</span></div>
<div class="abs" style="left:761.2px;top:385px;width:95.6px;height:17.6px;background:#2a2a2a;border-radius:2px"></div>
<svg class="abs" style="left:766px;top:389px" width="10" height="10" viewBox="0 0 10 10"><path d="M2.6 1.2h4.8v7.4l-2.4-1.8-2.4 1.8z" fill="none" stroke="#dcdcdc" stroke-width="1"/></svg>
<div class="abs nw" style="left:781.6px;top:390px;font-size:6.8px;line-height:9px;color:#dcdcdc;font-weight:bold;letter-spacing:.3px"><span id="m_sp">SELECT POSTFLOP</span></div>
<div class="abs nw" style="left:962.7px;top:522.3px;font-size:6.75px;line-height:8px;color:#4a4a4a"><span id="m_exit">Exit Focus mode</span></div>
</body></html>
